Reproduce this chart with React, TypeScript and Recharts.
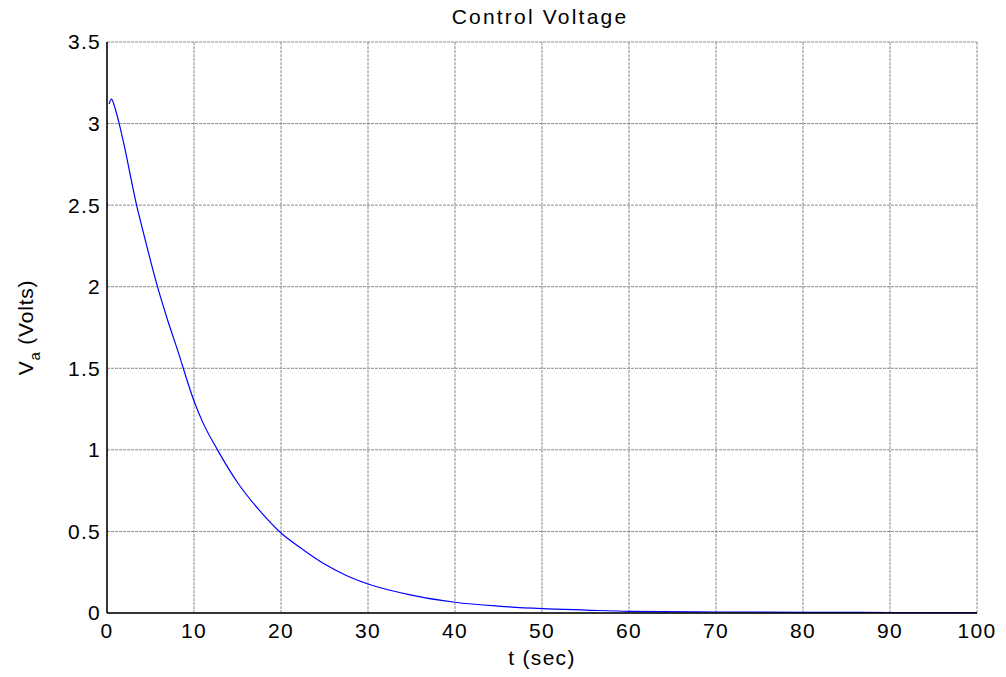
import { LineChart, Line, XAxis, YAxis, CartesianGrid, Label } from "recharts";

// time (sec) and control voltage (V)
const times = [0.25, 0.5, 1, 1.4, 2, 3, 3.4, 4, 5, 5.7, 7, 8, 10, 11, 12.7, 15, 17.5, 20, 22.5, 25, 27.5, 30, 35, 40, 45, 50, 55, 60, 70, 80, 90, 100];
const volts = [3.12, 3.15, 3.08, 3.0, 2.86, 2.6, 2.5, 2.37, 2.16, 2.02, 1.79, 1.63, 1.3, 1.17, 1.0, 0.8, 0.63, 0.49, 0.39, 0.3, 0.23, 0.178, 0.11, 0.066, 0.042, 0.027, 0.018, 0.01, 0.006, 0.004, 0.003, 0.002];

const xTicks = [0, 10, 20, 30, 40, 50, 60, 70, 80, 90, 100];
const yTicks = [0, 0.5, 1, 1.5, 2, 2.5, 3, 3.5];

const data = times.map((t, i) => ({ t, v: volts[i] }));

const FONT = "'Liberation Sans', Arial, Helvetica, sans-serif";
const tickStyle = { fill: "#000", fontSize: 21, fontFamily: FONT, letterSpacing: 1.3 };

function YLabel(props: any) {
  const vb = props.viewBox;
  const cy = vb.y + vb.height / 2;
  return (
    <text
      x={33}
      y={cy}
      transform={`rotate(-90, 33, ${cy})`}
      textAnchor="middle"
      fontFamily={FONT}
      fontSize={21}
      letterSpacing={0.8}
      fill="#000"
    >
      V
      <tspan dy={7} fontSize={15}>
        a
      </tspan>
      <tspan dy={-7}> (Volts)</tspan>
    </text>
  );
}

export default function App() {
  return (
    <div style={{ position: "absolute", left: 0, top: 0, width: 1006, height: 677, background: "#fff" }}>
      <div
        style={{
          position: "absolute",
          left: 0,
          width: 1080,
          top: 5,
          textAlign: "center",
          fontFamily: FONT,
          fontSize: 21,
          letterSpacing: 2.2,
          color: "#000",
        }}
      >
        Control Voltage
      </div>
      <LineChart
        width={1006}
        height={677}
        data={data}
        margin={{ top: 42, right: 29, bottom: 24, left: 47 }}
      >
        <CartesianGrid stroke="#8a8a8a" strokeDasharray="3 1" horizontalValues={yTicks} verticalValues={xTicks} />
        <XAxis
          type="number"
          dataKey="t"
          domain={[0, 100]}
          ticks={xTicks}
          height={40}
          tickLine={false}
          tickSize={0}
          tickMargin={10}
          axisLine={{ stroke: "#000", strokeWidth: 1.5 }}
          tick={tickStyle}
          interval={0}
        >
          <Label
            value="t (sec)"
            position="bottom"
            offset={-3}
            style={{ fill: "#000", fontSize: 21, fontFamily: FONT, letterSpacing: 1.3 }}
          />
        </XAxis>
        <YAxis
          type="number"
          domain={[0, 3.5]}
          ticks={yTicks}
          width={60}
          tickLine={false}
          tickSize={0}
          tickMargin={6}
          axisLine={{ stroke: "#000", strokeWidth: 1.5 }}
          tick={tickStyle}
          interval={0}
        >
          <Label content={<YLabel />} />
        </YAxis>
        <Line
          type="monotone"
          dataKey="v"
          stroke="#0000ff"
          strokeWidth={1.2}
          dot={false}
          isAnimationActive={false}
        />
      </LineChart>
    </div>
  );
}
